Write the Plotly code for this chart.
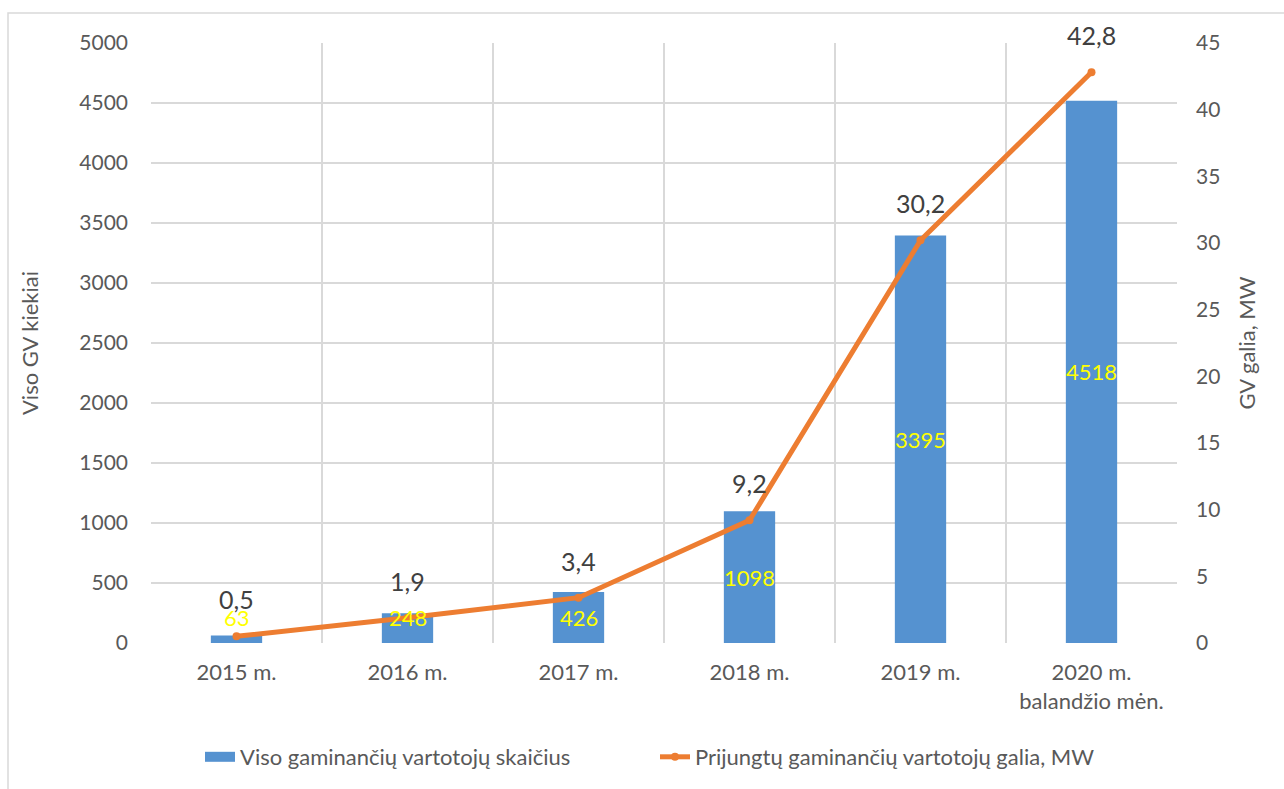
import plotly.graph_objects as go

categories = ["2015 m.", "2016 m.", "2017 m.", "2018 m.", "2019 m.", "2020 m.<br>balandžio mėn."]
consumers = [63, 248, 426, 1098, 3395, 4518]
power_mw = [0.5, 1.9, 3.4, 9.2, 30.2, 42.8]
power_labels = ["0,5", "1,9", "3,4", "9,2", "30,2", "42,8"]

FONT = "Lato, 'Open Sans', sans-serif"
GREY = "#595959"
BAR_COLOR = "#5592d0"
LINE_COLOR = "#ed7d31"

fig = go.Figure()
fig.add_trace(go.Bar(
    x=categories, y=consumers, name="Viso gaminančių vartotojų skaičius",
    marker=dict(color=BAR_COLOR, line=dict(width=0)), width=0.3, yaxis="y",
    showlegend=False, legendgroup="bars",
))
# legend entry for the bars drawn as a wide rectangle (as in the original)
fig.add_trace(go.Scatter(
    x=[None], y=[None], name="Viso gaminančių vartotojų skaičius",
    mode="lines", line=dict(color=BAR_COLOR, width=15), legendgroup="bars",
))
fig.add_trace(go.Scatter(
    x=categories, y=power_mw, name="Prijungtų gaminančių vartotojų galia, MW",
    mode="lines+markers", line=dict(color=LINE_COLOR, width=5),
    marker=dict(size=8, color=LINE_COLOR), yaxis="y2",
))

annotations = []
for c, v in zip(categories, consumers):
    annotations.append(dict(
        x=c, y=max(v / 2, 210), xref="x", yref="y", text=str(v), showarrow=False,
        font=dict(family=FONT, size=22, color="#ffff00"), yanchor="middle",
    ))
for c, v, t in zip(categories, power_mw, power_labels):
    annotations.append(dict(
        x=c, y=v, xref="x", yref="y2", text=t, showarrow=False,
        font=dict(family=FONT, size=25, color="#404040"), yanchor="middle", yshift=37,
    ))

W, H = 1284, 789
L, R, T, B = 151, 1177, 43, 644
pw, ph = R - L, B - T

fig.update_layout(
    width=W, height=H,
    margin=dict(l=L, r=W - R, t=T, b=H - B),
    paper_bgcolor="white", plot_bgcolor="white",
    font=dict(family=FONT, size=21, color=GREY),
    showlegend=True,
    legend=dict(orientation="h", x=(655 - L) / pw, xanchor="center", y=-(757 - B) / ph,
                yanchor="middle", font=dict(family=FONT, size=22, color=GREY),
                entrywidth=410, entrywidthmode="pixels", tracegroupgap=0),
    xaxis=dict(type="category", tickson="boundaries", showgrid=True, gridcolor="#d9d9d9",
               gridwidth=1.5, ticks="", showline=False, zeroline=False, ticklabelstandoff=14,
               tickfont=dict(family=FONT, size=22, color=GREY)),
    yaxis=dict(range=[0, 5000], dtick=500, showgrid=True, gridcolor="#d9d9d9", gridwidth=1.5,
               zeroline=False, showline=False, ticks="", ticklabelstandoff=22,
               title=dict(text="Viso GV kiekiai", font=dict(family=FONT, size=22, color=GREY),
                          standoff=34),
               tickfont=dict(family=FONT, size=21, color=GREY)),
    yaxis2=dict(range=[0, 45], dtick=5, overlaying="y", side="right", showgrid=False,
                zeroline=False, showline=False, ticks="", ticklabelstandoff=18,
                title=dict(text="GV galia, MW", font=dict(family=FONT, size=22, color=GREY),
                           standoff=20),
                tickfont=dict(family=FONT, size=21, color=GREY)),
    annotations=annotations,
    shapes=[dict(type="rect", xref="paper", yref="paper",
                 x0=(8 - L) / pw, x1=(W + 10 - L) / pw,
                 y0=-(H + 10 - B) / ph, y1=1 + (T - 13) / ph,
                 line=dict(color="#d9d9d9", width=1.5), layer="below")],
    bargap=0.7,
)
fig.write_html("out.html")
